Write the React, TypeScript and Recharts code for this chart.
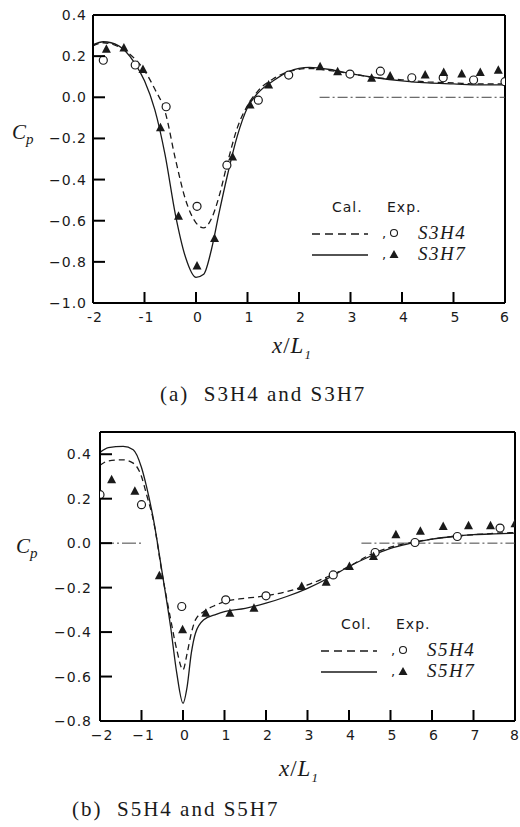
import { ComposedChart, Line, Scatter, XAxis, YAxis, ReferenceLine } from 'recharts'

// ---- (a) S3H4 and S3H7 ----
const aCalX = [-2, -1.8, -1.5, -1.2, -1.0, -0.8, -0.6, -0.4, -0.2, 0, 0.15, 0.3, 0.45, 0.6, 0.8, 1.0, 1.2, 1.5, 1.8, 2.2, 2.6, 3, 3.5, 4, 4.5, 5, 5.5, 6]
const aCalS3H4 = [0.25, 0.265, 0.245, 0.19, 0.13, 0.04, -0.07, -0.3, -0.5, -0.61, -0.635, -0.59, -0.48, -0.33, -0.15, -0.04, 0.03, 0.09, 0.125, 0.14, 0.13, 0.115, 0.095, 0.085, 0.075, 0.07, 0.065, 0.065]
const aCalS3H7 = [0.255, 0.27, 0.25, 0.17, 0.08, -0.06, -0.28, -0.57, -0.78, -0.875, -0.86, -0.74, -0.56, -0.39, -0.19, -0.05, 0.02, 0.08, 0.125, 0.145, 0.135, 0.115, 0.095, 0.08, 0.07, 0.065, 0.06, 0.06]
const aExpS3H4X = [-1.8, -1.18, -0.58, 0.02, 0.6, 1.21, 1.8, 2.99, 3.58, 4.19, 4.8, 5.39, 6.0]
const aExpS3H4 = [0.18, 0.157, -0.046, -0.53, -0.33, -0.014, 0.108, 0.113, 0.127, 0.095, 0.095, 0.084, 0.076]
const aExpS3H7X = [-1.74, -1.4, -1.03, -0.69, -0.34, 0.02, 0.36, 0.71, 1.05, 1.41, 2.41, 2.75, 3.41, 3.77, 4.45, 4.81, 5.16, 5.52, 5.87]
const aExpS3H7 = [0.233, 0.24, 0.135, -0.148, -0.578, -0.82, -0.687, -0.29, -0.038, 0.06, 0.148, 0.124, 0.092, 0.103, 0.108, 0.12, 0.113, 0.12, 0.132]
const aXTicks = [-2, -1, 0, 1, 2, 3, 4, 5, 6]
const aYTicks = [-1.0, -0.8, -0.6, -0.4, -0.2, 0.0, 0.2, 0.4]

// ---- (b) S5H4 and S5H7 ----
const bCalX = [-2, -1.8, -1.44, -1.2, -1.0, -0.88, -0.71, -0.5, -0.3, -0.15, 0, 0.1, 0.2, 0.3, 0.5, 0.8, 1.0, 1.5, 2, 2.5, 3, 3.5, 4, 4.5, 5, 5.5, 6, 6.5, 7, 7.5, 8]
const bCalS5H4 = [0.35, 0.37, 0.375, 0.36, 0.3, 0.22, 0.1, -0.14, -0.34, -0.48, -0.57, -0.495, -0.405, -0.345, -0.308, -0.278, -0.263, -0.248, -0.237, -0.218, -0.188, -0.15, -0.105, -0.053, -0.018, 0.003, 0.018, 0.03, 0.038, 0.044, 0.048]
const bCalS5H7 = [0.408, 0.43, 0.435, 0.42, 0.34, 0.255, 0.105, -0.135, -0.375, -0.585, -0.72, -0.645, -0.495, -0.405, -0.345, -0.32, -0.308, -0.293, -0.27, -0.24, -0.203, -0.158, -0.105, -0.06, -0.023, 0.0, 0.018, 0.03, 0.038, 0.042, 0.045]
const bExpS5H4X = [-2.0, -1.0, -0.03, 1.03, 2.0, 3.62, 4.63, 5.59, 6.61, 7.64]
const bExpS5H4 = [0.218, 0.173, -0.285, -0.255, -0.237, -0.143, -0.042, 0.003, 0.03, 0.068]
const bExpS5H7X = [-1.72, -1.16, -0.57, -0.01, 0.55, 1.13, 1.71, 2.86, 3.45, 4.01, 4.59, 5.13, 5.72, 6.27, 6.88, 7.41, 8.0]
const bExpS5H7 = [0.285, 0.233, -0.147, -0.39, -0.315, -0.315, -0.293, -0.195, -0.176, -0.105, -0.06, 0.038, 0.053, 0.075, 0.078, 0.078, 0.087]
const bXTicks = [-2, -1, 0, 1, 2, 3, 4, 5, 6, 7, 8]
const bYTicks = [-0.8, -0.6, -0.4, -0.2, 0.0, 0.2, 0.4]

const zip = (xs: number[], ys: number[]) => xs.map((x, i) => ({ x, y: ys[i] }))

const INK = '#1a1a1a'
const FRAME = '#000000'
const sans = 'DejaVu Sans'
const serif = 'Liberation Serif'

const OpenCircle = (p: any) => <circle cx={p.cx} cy={p.cy} r={4} fill="#fff" stroke={INK} strokeWidth={1.2} />
const Triangle = (p: any) => (
  <path d={`M${p.cx},${p.cy - 5} L${p.cx + 4.5},${p.cy + 3.5} L${p.cx - 4.5},${p.cy + 3.5} Z`} fill={INK} />
)

const fmtY = (v: number) => (v < 0 ? '\u2212' : '') + Math.abs(v).toFixed(1)

// inward tick marks drawn with the label, label outside the frame
const makeXTick = (fmt: (v: number) => string, lo: number, hi: number) => (props: any) => {
  const { x, y, payload } = props
  const v = payload.value
  const isLast = v === hi
  return (
    <g>
      {v > lo && v < hi && <path d={`M${x},${y}L${x},${y - 11}`} stroke={FRAME} strokeWidth={2} />}
      <text x={isLast ? x + 5 : x + 2} y={y + 19} textAnchor={isLast ? 'end' : 'middle'} fontFamily={sans} fontSize={14} letterSpacing={1} fill={INK}>
        {fmt(v)}
      </text>
    </g>
  )
}
const makeYTick = (gap: number, lo: number, hi: number) => (props: any) => {
  const { x, y, payload } = props
  const v = payload.value
  return (
    <g>
      {v > lo && v < hi && <path d={`M${x},${y}L${x + 12},${y}`} stroke={FRAME} strokeWidth={2} />}
      <text x={x - gap} y={y + 5} textAnchor="end" fontFamily={sans} fontSize={14} letterSpacing={1} fill={INK}>
        {fmtY(v)}
      </text>
    </g>
  )
}

interface PanelProps {
  top: number
  height: number
  margin: { top: number; right: number; left: number; bottom: number }
  yWidth: number
  xDomain: [number, number]
  yDomain: [number, number]
  xTicks: number[]
  yTicks: number[]
  fmtX: (v: number) => string
  yGap: number
  dashed: { x: number; y: number }[]
  solid: { x: number; y: number }[]
  circles: { x: number; y: number }[]
  triangles: { x: number; y: number }[]
  refs: { x1: number; x2: number; dash: string }[]
}

function Panel(p: PanelProps) {
  const [x0, x1] = p.xDomain
  const [y0, y1] = p.yDomain
  return (
    <div style={{ position: 'absolute', left: 0, top: p.top }}>
      <ComposedChart width={520} height={p.height} margin={p.margin}>
        <XAxis
          type="number"
          dataKey="x"
          domain={p.xDomain}
          ticks={p.xTicks}
          allowDataOverflow
          interval={0}
          height={30}
          tickSize={0}
          tickMargin={0}
          tickLine={false}
          tick={makeXTick(p.fmtX, x0, x1)}
          axisLine={{ stroke: FRAME, strokeWidth: 2 }}
        />
        <YAxis
          type="number"
          domain={p.yDomain}
          ticks={p.yTicks}
          allowDataOverflow
          interval={0}
          width={p.yWidth}
          tickSize={0}
          tickMargin={0}
          tickLine={false}
          tick={makeYTick(p.yGap, y0, y1)}
          axisLine={{ stroke: FRAME, strokeWidth: 2 }}
        />
        {/* top and right sides of the frame */}
        <ReferenceLine y={y1} stroke={FRAME} strokeWidth={2} />
        <ReferenceLine x={x1} stroke={FRAME} strokeWidth={2} />
        {p.refs.map((r, i) => (
          <ReferenceLine
            key={i}
            segment={[{ x: r.x1, y: 0 }, { x: r.x2, y: 0 }]}
            stroke="#444"
            strokeWidth={1}
            strokeDasharray={r.dash}
          />
        ))}
        <Line data={p.dashed} dataKey="y" type="monotone" stroke={INK} strokeWidth={1.3} strokeDasharray="6 4" dot={false} isAnimationActive={false} />
        <Line data={p.solid} dataKey="y" type="monotone" stroke={INK} strokeWidth={1.3} dot={false} isAnimationActive={false} />
        <Scatter data={p.circles} dataKey="y" shape={OpenCircle} isAnimationActive={false} />
        <Scatter data={p.triangles} dataKey="y" shape={Triangle} isAnimationActive={false} />
      </ComposedChart>
    </div>
  )
}

const abs = (left: number, top: number, extra: any = {}) => ({ position: 'absolute' as const, left, top, whiteSpace: 'nowrap' as const, color: INK, ...extra })

function Legend({ left, top, h4, h7, cal }: { left: number; top: number; h4: string; h7: string; cal: string }) {
  return (
    <svg style={{ position: 'absolute', left, top }} width={180} height={70}>
      <text x={20} y={14} fontFamily={sans} fontSize={14} fill={INK} letterSpacing={1}>{cal}</text>
      <text x={75} y={14} fontFamily={sans} fontSize={14} fill={INK} letterSpacing={1}>Exp.</text>
      <path d="M0,36L56,36" stroke={INK} strokeWidth={1.3} strokeDasharray="8 5" />
      <text x={70} y={40} fontFamily={sans} fontSize={13} fill={INK}>,</text>
      <circle cx={82} cy={35} r={3.5} fill="#fff" stroke={INK} strokeWidth={1.1} />
      <text x={106} y={41} fontFamily={serif} fontStyle="italic" fontSize={19} fill={INK} letterSpacing={1.5}>{h4}</text>
      <path d="M0,57L56,57" stroke={INK} strokeWidth={1.3} />
      <text x={70} y={61} fontFamily={sans} fontSize={13} fill={INK}>,</text>
      <path d="M82,52 L86.5,60 L77.5,60 Z" fill={INK} />
      <text x={106} y={62} fontFamily={serif} fontStyle="italic" fontSize={19} fill={INK} letterSpacing={1.5}>{h7}</text>
    </svg>
  )
}

const XLabel = ({ left, top }: { left: number; top: number }) => (
  <div style={abs(left, top, { fontFamily: serif, fontStyle: 'italic', fontSize: 23, letterSpacing: 1 })}>
    x<span style={{ fontStyle: 'normal' }}>/</span>L<sub style={{ fontSize: 13 }}>1</sub>
  </div>
)

const CpLabel = ({ left, top }: { left: number; top: number }) => (
  <div style={abs(left, top, { fontFamily: serif, fontStyle: 'italic', fontSize: 21 })}>
    C<sub style={{ fontSize: 15 }}>p</sub>
  </div>
)

export default function App() {
  return (
    <div style={{ position: 'absolute', left: 0, top: 0, width: 520, height: 827, background: '#fff' }}>
      <Panel
        top={0}
        height={333}
        margin={{ top: 15, right: 15, left: 0, bottom: 0 }}
        yWidth={93}
        xDomain={[-2, 6]}
        yDomain={[-1.0, 0.4]}
        xTicks={aXTicks}
        yTicks={aYTicks}
        fmtX={(v) => String(v)}
        yGap={6}
        dashed={zip(aCalX, aCalS3H4)}
        solid={zip(aCalX, aCalS3H7)}
        circles={zip(aExpS3H4X, aExpS3H4)}
        triangles={zip(aExpS3H7X, aExpS3H7)}
        refs={[{ x1: 2.4, x2: 6, dash: '10 3 2 3' }]}
      />
      <CpLabel left={12} top={120} />
      <XLabel left={272} top={333} />
      <div style={abs(160, 382, { fontFamily: serif, fontSize: 21, letterSpacing: 2 })}>(a)&nbsp; S3H4 and S3H7</div>
      <Legend left={312} top={198} cal="Cal." h4="S3H4" h7="S3H7" />

      <Panel
        top={420}
        height={331}
        margin={{ top: 12, right: 5, left: 0, bottom: 0 }}
        yWidth={100}
        xDomain={[-2, 8]}
        yDomain={[-0.8, 0.5]}
        xTicks={bXTicks}
        yTicks={bYTicks}
        fmtX={(v) => (v < 0 ? '\u2212' : '') + Math.abs(v)}
        yGap={8}
        dashed={zip(bCalX, bCalS5H4)}
        solid={zip(bCalX, bCalS5H7)}
        circles={zip(bExpS5H4X, bExpS5H4)}
        triangles={zip(bExpS5H7X, bExpS5H7)}
        refs={[{ x1: -2, x2: -1, dash: '14 3 2 3' }, { x1: 4.3, x2: 8, dash: '10 3 2 3' }]}
      />
      <CpLabel left={16} top={534} />
      <XLabel left={279} top={756} />
      <div style={abs(72, 797, { fontFamily: serif, fontSize: 21, letterSpacing: 2 })}>(b)&nbsp; S5H4 and S5H7</div>
      <Legend left={321} top={615} cal="Col." h4="S5H4" h7="S5H7" />
    </div>
  )
}
